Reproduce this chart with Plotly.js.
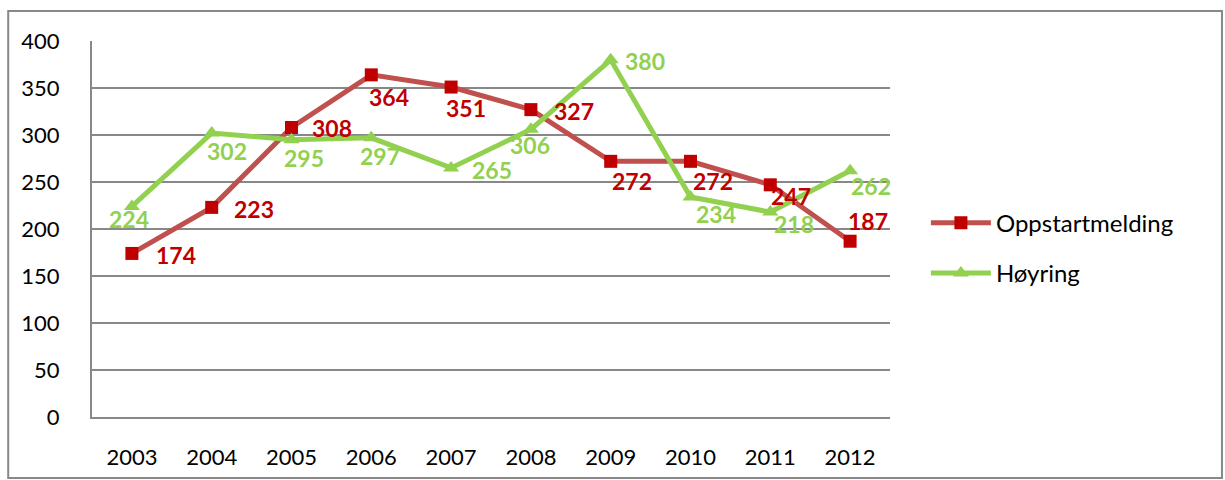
<!DOCTYPE html>
<html><head><meta charset="utf-8">
<script src="https://cdn.plot.ly/plotly-3.0.1.min.js"></script>
<style>html,body{margin:0;padding:0;background:#fff}#c{width:1225px;height:480px}</style>
</head><body><div id="c"></div>
<script>
const years = ['2003','2004','2005','2006','2007','2008','2009','2010','2011','2012'];
const oppstart = [174,223,308,364,351,327,272,272,247,187];
const hoyring = [224,302,295,297,265,306,380,234,218,262];
const names = ['Oppstartmelding','Høyring'];

// label offsets in pixels (dx right, dy down) – styling only
const oppstartOff = [[44,2],[42,2],[40,1],[18,22],[15,21],[43,1],[21,20],[22,20],[21,11],[18,-20]];
const hoyringOff = [[-3,13],[15,18],[12,18],[9,18],[41,2],[-1,16],[34,1],[25,17],[24,12],[21,15]];

const FONT = 'Lato, "Open Sans", sans-serif';
const RED_TXT = '#C00000', GREEN = '#92D050';

const traces = [
  {x: years, y: oppstart, name: names[0], type:'scatter', mode:'lines+markers',
   legendgroup:'a', cliponaxis:false,
   line:{color:'#C0504D', width:5}, marker:{symbol:'square', size:13, color:'#C00000'}},
  {x: years, y: hoyring, name: names[1], type:'scatter', mode:'lines+markers',
   legendgroup:'b', cliponaxis:false,
   line:{color:GREEN, width:5}, marker:{symbol:'triangle-up', size:14, color:GREEN}}
];

// category axis: annotation x given as the category index of years[i]
function labels(vals, offs, color){
  return vals.map((v,i)=>({x: years.indexOf(years[i]), y: v, xref:'x', yref:'y', text: String(v), showarrow:false,
    xshift: offs[i][0], yshift: -offs[i][1], xanchor:'center', yanchor:'middle',
    font:{family:FONT, size:23, color:color, weight:'bold'}}));
}

const layout = {
  width:1225, height:480,
  margin:{l:92, r:335, t:41, b:63},
  paper_bgcolor:'#fff', plot_bgcolor:'#fff',
  font:{family:FONT, size:22, color:'#000'},
  showlegend:true,
  legend:{x:1.045, y:0.449, yanchor:'middle', xanchor:'left', itemwidth:60, tracegroupgap:16,
          font:{family:FONT, size:24, color:'#000'}, bgcolor:'rgba(0,0,0,0)'},
  xaxis:{type:'category', range:[-0.5,9.5], showgrid:false, showline:true, linecolor:'#888', linewidth:2,
         ticks:'', ticklabelstandoff:20, tickfont:{family:FONT, size:22, color:'#000'}, fixedrange:true},
  yaxis:{range:[0,400], dtick:50, showgrid:true, gridcolor:'#888', gridwidth:2, zeroline:false,
         showline:true, linecolor:'#888', linewidth:2, ticks:'', ticklabelstandoff:26,
         tickfont:{family:FONT, size:22, color:'#000'}, fixedrange:true},
  annotations: labels(oppstart, oppstartOff, RED_TXT).concat(labels(hoyring, hoyringOff, GREEN)),
  shapes:[{type:'rect', xref:'paper', yref:'paper', x0:-0.105, x1:1.416, y0:-0.162, y1:1.08,
           line:{color:'#888', width:2}, fillcolor:'rgba(0,0,0,0)', layer:'below'}]
};
Plotly.newPlot('c', traces, layout, {displayModeBar:false, staticPlot:true});
</script></body></html>
